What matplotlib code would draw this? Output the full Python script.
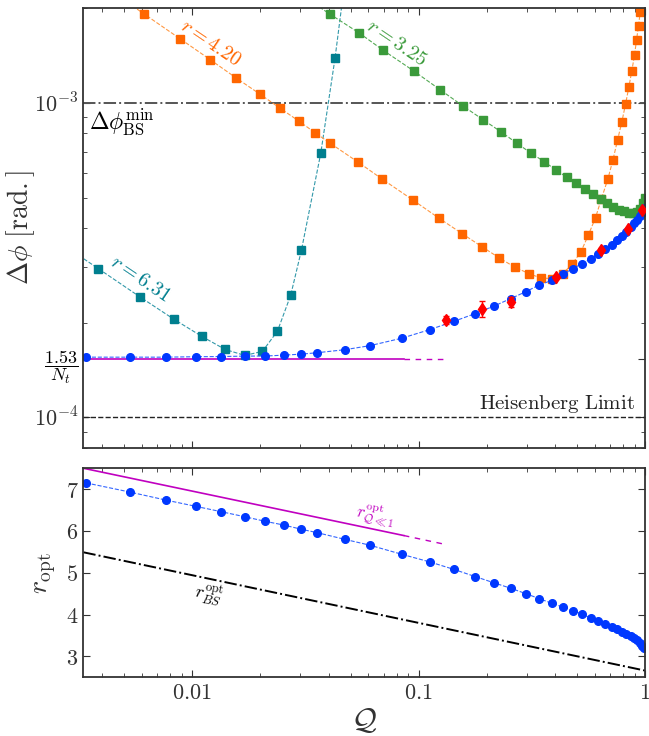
import matplotlib.pyplot as plt
from matplotlib.ticker import LogLocator, NullFormatter

plt.rcParams["mathtext.fontset"] = "cm"
plt.rcParams["font.family"] = ["DejaVu Serif"]

# ---- data ----
# optimal (blue circles), shared x for both panels
q_opt = [0.00339, 0.0053, 0.00762, 0.01033, 0.01343, 0.01705, 0.0210, 0.02543,
         0.03034, 0.03556, 0.0471, 0.0608, 0.0844, 0.1118, 0.1432, 0.1773,
         0.2150, 0.2547, 0.2977, 0.341, 0.3877, 0.4335, 0.480, 0.528, 0.579,
         0.621, 0.667, 0.711, 0.754, 0.790, 0.826, 0.863, 0.890, 0.920, 0.946,
         0.968, 0.988]
dphi_opt = [1.553e-4, 1.553e-4, 1.553e-4, 1.558e-4, 1.560e-4, 1.565e-4, 1.566e-4,
            1.576e-4, 1.588e-4, 1.604e-4, 1.640e-4, 1.689e-4, 1.785e-4, 1.900e-4,
            2.019e-4, 2.136e-4, 2.258e-4, 2.384e-4, 2.510e-4, 2.635e-4, 2.727e-4,
            2.850e-4, 2.972e-4, 3.083e-4, 3.197e-4, 3.317e-4, 3.424e-4, 3.544e-4,
            3.660e-4, 3.776e-4, 3.888e-4, 4.016e-4, 4.135e-4, 4.240e-4, 4.360e-4,
            4.480e-4, 4.620e-4]
r_opt = [7.15, 6.93, 6.74, 6.59, 6.46, 6.34, 6.23, 6.14, 6.04, 5.96, 5.80, 5.66,
         5.44, 5.26, 5.08, 4.91, 4.76, 4.63, 4.50, 4.38, 4.27, 4.18, 4.09, 4.01,
         3.91, 3.85, 3.78, 3.71, 3.65, 3.59, 3.54, 3.49, 3.44, 3.38, 3.32, 3.25,
         3.20]

# fixed squeezing r = 6.31
q_r631 = [0.0030, 0.00384, 0.00588, 0.00831, 0.01102, 0.01396, 0.01705, 0.0204,
          0.02377, 0.0272, 0.03034, 0.03693, 0.0427, 0.048]
dphi_r631 = [3.35e-4, 2.972e-4, 2.413e-4, 2.048e-4, 1.808e-4, 1.643e-4, 1.573e-4,
             1.620e-4, 1.879e-4, 2.444e-4, 3.40e-4, 6.914e-4, 1.388e-3, 2.68e-3]

# fixed squeezing r = 4.20
q_r420 = [0.00479, 0.00613, 0.00883, 0.01198, 0.01561, 0.01992, 0.02441, 0.02953,
          0.03485, 0.04046, 0.05418, 0.06886, 0.0944, 0.1229, 0.1553, 0.1897,
          0.2272, 0.2662, 0.3069, 0.3456, 0.3877, 0.4335, 0.4752, 0.5207, 0.5614,
          0.6047, 0.6407, 0.6853, 0.7211, 0.7561, 0.790, 0.820, 0.848, 0.874,
          0.899, 0.917, 0.936, 0.952, 0.968]
dphi_r420 = [2.17e-3, 1.918e-3, 1.600e-3, 1.374e-3, 1.201e-3, 1.066e-3, 9.62e-4,
             8.76e-4, 8.04e-4, 7.46e-4, 6.47e-4, 5.73e-4, 4.907e-4, 4.299e-4,
             3.842e-4, 3.493e-4, 3.212e-4, 3.000e-4, 2.865e-4, 2.774e-4, 2.762e-4,
             2.865e-4, 3.066e-4, 3.357e-4, 3.795e-4, 4.32e-4, 4.94e-4, 5.73e-4,
             6.58e-4, 7.62e-4, 8.71e-4, 9.91e-4, 1.122e-3, 1.265e-3, 1.422e-3,
             1.588e-3, 1.76e-3, 1.946e-3, 2.3e-3]

# fixed squeezing r = 3.25
q_r325 = [0.0330, 0.04046, 0.0545, 0.06958, 0.0954, 0.1247, 0.1569, 0.1922,
          0.2318, 0.2716, 0.3131, 0.3589, 0.4038, 0.4501, 0.4969, 0.5445, 0.5884,
          0.6362, 0.6784, 0.7208, 0.7638, 0.806, 0.8457, 0.8836, 0.920, 0.952,
          0.978, 1.0]
dphi_r325 = [2.12e-3, 1.918e-3, 1.671e-3, 1.472e-3, 1.262e-3, 1.100e-3, 9.78e-4,
             8.85e-4, 8.08e-4, 7.44e-4, 6.93e-4, 6.50e-4, 6.12e-4, 5.81e-4, 5.55e-4,
             5.31e-4, 5.12e-4, 4.93e-4, 4.79e-4, 4.67e-4, 4.58e-4, 4.52e-4, 4.47e-4,
             4.46e-4, 4.49e-4, 4.59e-4, 4.79e-4, 5.0e-4]

# simulation points with error bars (red diamonds)
q_sim = [0.1320, 0.1904, 0.2547, 0.4026, 0.6362, 0.8395, 0.968]
dphi_sim = [2.033e-4, 2.216e-4, 2.333e-4, 2.794e-4, 3.417e-4, 3.967e-4, 4.56e-4]
err_sim = [6.0e-6, 1.3e-5, 8.5e-6, 5.0e-6, 4.0e-6, 3.0e-6, 3.0e-6]

# reference levels
dphi_bs_min = 1e-3
dphi_heis = 1e-4
dphi_small_q = 1.53e-4

# small-Q approximation (solid part, dashed continuation)
q_small_solid = [0.0033, 0.086]
q_small_dash = [0.086, 0.128]
r_small_solid = [7.50, 5.89]
r_small_dash = [5.89, 5.69]
# beam splitter optimum
q_bs = [0.0033, 1.0]
r_bs = [5.49, 2.66]

# ---- styling ----
c_blue = "#0038ff"
c_orange = "#ff6600"
c_green = "#3a9a3a"
c_teal = "#007f8f"
c_magenta = "#c000c0"
c_axis = "#333333"

fig = plt.figure(figsize=(6.49, 7.36), dpi=100)
ax1 = fig.add_axes([0.1284, 0.3917, 0.8655, 0.5970])
ax2 = fig.add_axes([0.1284, 0.0798, 0.8655, 0.2840], sharex=ax1)

# Top panel: phase uncertainty
ax1.axhline(dphi_bs_min, color="#555555", ls="-.", lw=1.4)
ax1.axhline(dphi_heis, color="#222222", ls="--", lw=1.0)
ax1.plot(q_small_solid, [dphi_small_q] * 2, color=c_magenta, lw=1.2)
ax1.plot(q_small_dash, [dphi_small_q] * 2, color=c_magenta, lw=1.0, ls=(0, (4, 4)))

ax1.plot(q_r631, dphi_r631, ls="--", lw=0.8, color="#3399aa",
         marker="s", ms=5.5, mfc=c_teal, mec=c_teal)
ax1.plot(q_r420, dphi_r420, ls="--", lw=0.8, color="#ff9944",
         marker="s", ms=5.5, mfc=c_orange, mec=c_orange)
ax1.plot(q_r325, dphi_r325, ls="--", lw=0.8, color="#55aa55",
         marker="s", ms=5.5, mfc=c_green, mec=c_green)
ax1.plot(q_opt, dphi_opt, ls="--", lw=0.8, color="#3366ff",
         marker="o", ms=5.5, mfc=c_blue, mec=c_blue)
ax1.errorbar(q_sim, dphi_sim, yerr=err_sim, fmt="d", color="red", ms=6.5,
             capsize=2.5, elinewidth=1.0, zorder=5)

ax1.set_xscale("log")
ax1.set_yscale("log")
ax1.set_xlim(0.0033, 1.0)
ax1.set_ylim(8e-5, 2e-3)
ax1.set_ylabel(r"$\Delta\phi\ [\mathrm{rad.}]$", fontsize=20, color=c_axis)
ax1.yaxis.set_label_coords(-0.082, 0.5)

ax1.set_yticks([1e-4, dphi_small_q, 1e-3],
               [r"$10^{-4}$", r"$\dfrac{1.53}{N_t}$", r"$10^{-3}$"])
ax1.yaxis.set_minor_locator(LogLocator(base=10, subs=range(2, 10)))
ax1.yaxis.set_minor_formatter(NullFormatter())
ax1.tick_params(axis="x", labelbottom=False)

ax1.text(0.0035, 8.7e-4, r"$\Delta\phi_{\mathrm{BS}}^{\mathrm{min}}$",
         fontsize=17, ha="left", va="center")
ax1.text(0.905, 1.1e-4, r"$\mathrm{Heisenberg\ Limit}$",
         fontsize=15, ha="right", va="center", color="#222222")
# curve labels sit just above their dashed lines
ax1.text(0.01207, 1.553e-3, r"$r=4.20$", fontsize=14.5, color=c_orange,
         rotation=-34, ha="center", va="center", rotation_mode="anchor")
ax1.text(0.0800, 1.553e-3, r"$r=3.25$", fontsize=14.5, color=c_green,
         rotation=-34, ha="center", va="center", rotation_mode="anchor")
ax1.text(0.00592, 2.748e-4, r"$r=6.31$", fontsize=14.5, color=c_teal,
         rotation=-34, ha="center", va="center", rotation_mode="anchor")

# Bottom panel: optimal squeezing
ax2.plot(q_small_solid, r_small_solid, color=c_magenta, lw=1.2)
ax2.plot(q_small_dash, r_small_dash, color=c_magenta, lw=1.0, ls=(0, (4, 4)))
ax2.plot(q_bs, r_bs, color="black", ls="-.", lw=1.4)
ax2.plot(q_opt, r_opt, ls="--", lw=0.8, color="#3366ff",
         marker="o", ms=5.5, mfc=c_blue, mec=c_blue)
ax2.set_ylim(2.5, 7.5)
ax2.set_yticks([3, 4, 5, 6, 7], ["$3$", "$4$", "$5$", "$6$", "$7$"])
ax2.set_ylabel(r"$r_{\mathrm{opt}}$", fontsize=20, color=c_axis)
ax2.yaxis.set_label_coords(-0.045, 0.5)
ax2.set_xlabel(r"$\mathcal{Q}$", fontsize=22, color=c_axis)
ax2.xaxis.set_label_coords(0.5, -0.135)
ax2.set_xticks([0.01, 0.1, 1], ["$0.01$", "$0.1$", "$1$"])
ax2.xaxis.set_minor_locator(LogLocator(base=10, subs=range(2, 10)))
ax2.xaxis.set_minor_formatter(NullFormatter())

ax2.text(0.01183, 4.47, r"$r_{BS}^{\mathrm{opt}}$", fontsize=13,
         rotation=-11, ha="center", va="center", rotation_mode="anchor")
ax2.text(0.0644, 6.39, r"$r_{\mathcal{Q}\ll 1}^{\mathrm{opt}}$", fontsize=12,
         color=c_magenta, rotation=-11, ha="center", va="center",
         rotation_mode="anchor")

for ax in (ax1, ax2):
    for sp in ax.spines.values():
        sp.set_color(c_axis)
        sp.set_linewidth(1.3)
    ax.tick_params(which="both", direction="in", top=True, right=True,
                   color=c_axis, labelcolor=c_axis, labelsize=16)
    ax.tick_params(which="major", length=5, width=0.8)
    ax.tick_params(which="minor", length=3, width=0.6)

# fraction label: black and a bit smaller than the powers of ten
frac_label = ax1.get_yticklabels()[1]
frac_label.set_color("black")
frac_label.set_fontsize(13)

fig.savefig("out.png", dpi=100)
